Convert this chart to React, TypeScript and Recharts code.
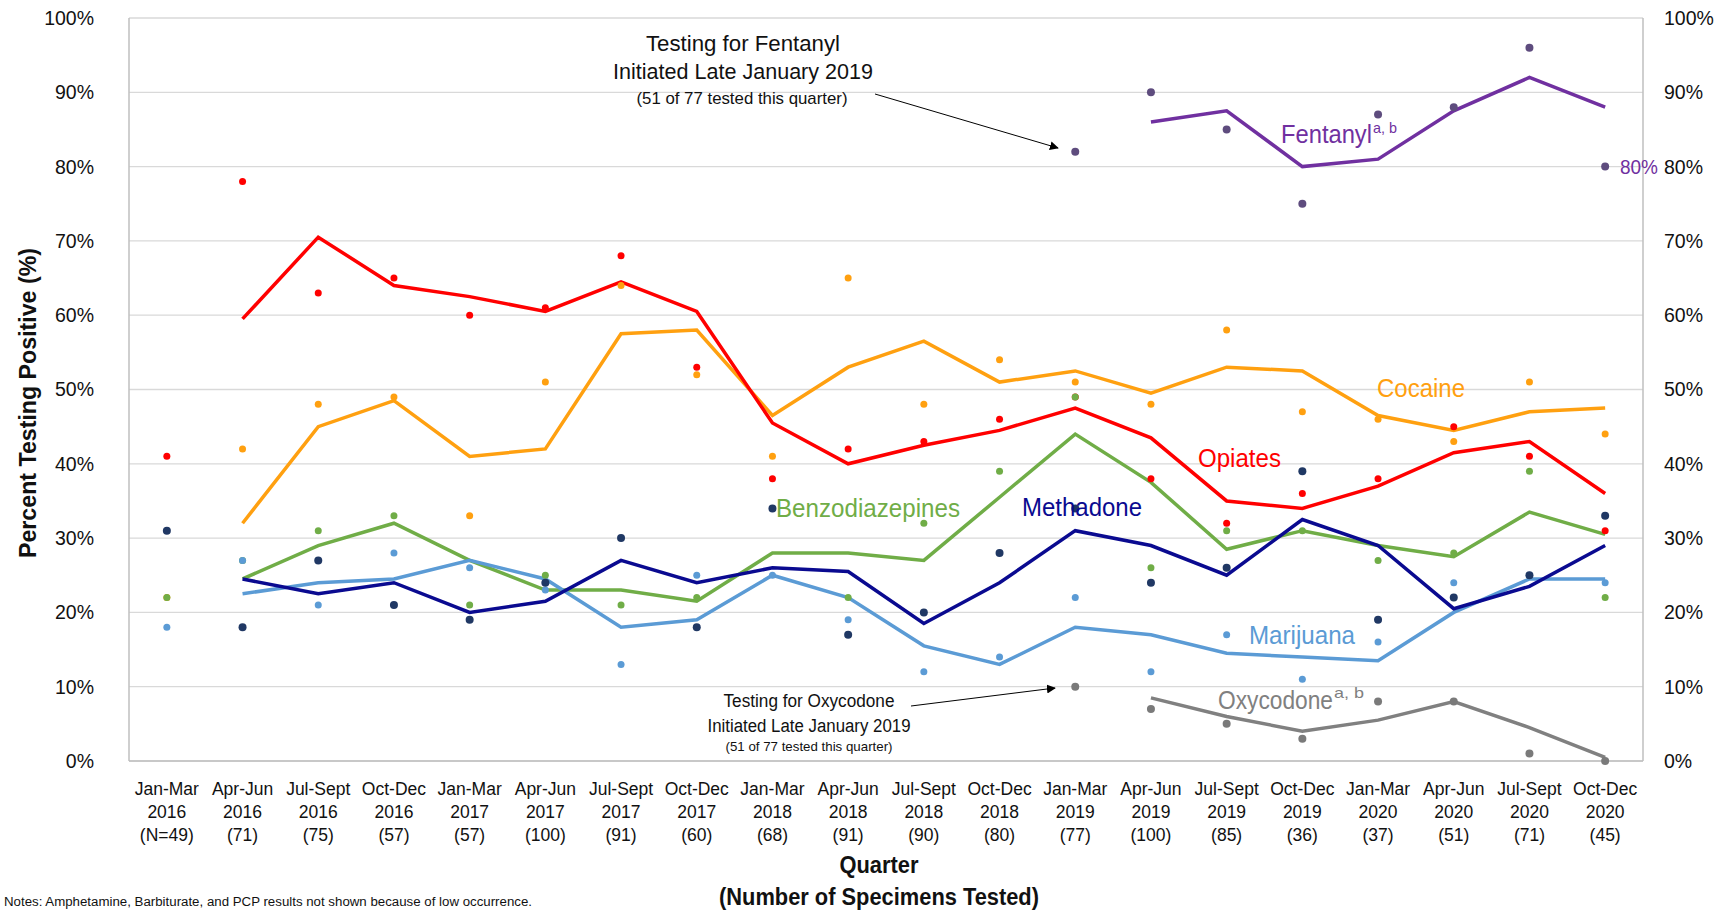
import React from "react";
import { ComposedChart, Line, XAxis, YAxis, CartesianGrid } from "recharts";

const quarterNames = [
  "Jan-Mar", "Apr-Jun", "Jul-Sept", "Oct-Dec",
  "Jan-Mar", "Apr-Jun", "Jul-Sept", "Oct-Dec",
  "Jan-Mar", "Apr-Jun", "Jul-Sept", "Oct-Dec",
  "Jan-Mar", "Apr-Jun", "Jul-Sept", "Oct-Dec",
  "Jan-Mar", "Apr-Jun", "Jul-Sept", "Oct-Dec",
];
const quarterYears = [
  "2016", "2016", "2016", "2016", "2017", "2017", "2017", "2017",
  "2018", "2018", "2018", "2018", "2019", "2019", "2019", "2019",
  "2020", "2020", "2020", "2020",
];
const specimenLabels = [
  "(N=49)", "(71)", "(75)", "(57)", "(57)", "(100)", "(91)", "(60)", "(68)", "(91)",
  "(90)", "(80)", "(77)", "(100)", "(85)", "(36)", "(37)", "(51)", "(71)", "(45)",
];
const percentTicks = [0, 10, 20, 30, 40, 50, 60, 70, 80, 90, 100];

// quarterly results (dots)
const opiatesDots = [41, 78, 63, 65, 60, 61, 68, 53, 38, 42, 43, 46, 49, 38, 32, 36, 38, 45, 41, 31];
const cocaineDots = [22, 42, 48, 49, 33, 51, 64, 52, 41, 65, 48, 54, 51, 48, 58, 47, 46, 43, 51, 44];
const benzoDots = [22, 27, 31, 33, 21, 25, 21, 22, 34, 22, 32, 39, 49, 26, 31, 31, 27, 28, 39, 22];
const marijuanaDots = [18, 27, 21, 28, 26, 23, 13, 25, 25, 19, 12, 14, 22, 12, 17, 11, 16, 24, 25, 24];
const methadoneDots = [31, 18, 27, 21, 19, 24, 30, 18, 34, 17, 20, 28, 34, 24, 26, 39, 19, 22, 25, 33];
const fentanylDots = [null, null, null, null, null, null, null, null, null, null, null, null, 82, 90, 85, 75, 87, 88, 96, 80];
const oxycodoneDots = [null, null, null, null, null, null, null, null, null, null, null, null, 10, 7, 5, 3, 8, 8, 1, 0];

// two-quarter trend lines
const opiatesLine = [null, 59.5, 70.5, 64, 62.5, 60.5, 64.5, 60.5, 45.5, 40, 42.5, 44.5, 47.5, 43.5, 35, 34, 37, 41.5, 43, 36];
const cocaineLine = [null, 32, 45, 48.5, 41, 42, 57.5, 58, 46.5, 53, 56.5, 51, 52.5, 49.5, 53, 52.5, 46.5, 44.5, 47, 47.5];
const benzoLine = [null, 24.5, 29, 32, 27, 23, 23, 21.5, 28, 28, 27, 35.5, 44, 37.5, 28.5, 31, 29, 27.5, 33.5, 30.5];
const marijuanaLine = [null, 22.5, 24, 24.5, 27, 24.5, 18, 19, 25, 22, 15.5, 13, 18, 17, 14.5, 14, 13.5, 20, 24.5, 24.5];
const methadoneLine = [null, 24.5, 22.5, 24, 20, 21.5, 27, 24, 26, 25.5, 18.5, 24, 31, 29, 25, 32.5, 29, 20.5, 23.5, 29];
const fentanylLine = [null, null, null, null, null, null, null, null, null, null, null, null, null, 86, 87.5, 80, 81, 87.5, 92, 88];
const oxycodoneLine = [null, null, null, null, null, null, null, null, null, null, null, null, null, 8.5, 6, 4, 5.5, 8, 4.5, 0.5];

const FONT = "'Liberation Sans', Arial, Helvetica, sans-serif";

const series = [
  { key: "cocaine", dots: cocaineDots, line: cocaineLine, color: "#ffa010", dotColor: "#ffa010", r: 3.5 },
  { key: "opiates", dots: opiatesDots, line: opiatesLine, color: "#ff0000", dotColor: "#ff0000", r: 3.5 },
  { key: "benzo", dots: benzoDots, line: benzoLine, color: "#70ad47", dotColor: "#70ad47", r: 3.5 },
  { key: "marijuana", dots: marijuanaDots, line: marijuanaLine, color: "#5b9bd5", dotColor: "#5b9bd5", r: 3.5 },
  { key: "methadone", dots: methadoneDots, line: methadoneLine, color: "#0a0a90", dotColor: "#203864", r: 4 },
  { key: "fentanyl", dots: fentanylDots, line: fentanylLine, color: "#7030a0", dotColor: "#5e4c7e", r: 4 },
  { key: "oxycodone", dots: oxycodoneDots, line: oxycodoneLine, color: "#808080", dotColor: "#7a7a7a", r: 4 },
];

const dotOrder = ["opiates", "cocaine", "benzo", "marijuana", "methadone", "fentanyl", "oxycodone"];

const data = quarterNames.map((q, i) => {
  const row: any = { label: `${q} ${quarterYears[i]}` };
  series.forEach((s) => {
    row[s.key + "Dot"] = s.dots[i];
    row[s.key + "Line"] = s.line[i];
  });
  return row;
});
const labels = data.map((d) => d.label);

const XTick = (props: any) => {
  const { x, y, payload } = props;
  const i = labels.indexOf(payload.value);
  return (
    <text x={x} y={y} textAnchor="middle" fontSize={17.5} fontFamily={FONT} fill="#111">
      <tspan x={x} dy={34}>{quarterNames[i]}</tspan>
      <tspan x={x} dy={23}>{quarterYears[i]}</tspan>
      <tspan x={x} dy={23}>{specimenLabels[i]}</tspan>
    </text>
  );
};

const T = (p: any) => (
  <text
    x={p.x}
    y={p.y}
    fontSize={p.size}
    fill={p.fill || "#111"}
    fontWeight={p.bold ? "bold" : "normal"}
    textAnchor={p.anchor || "start"}
    fontFamily={FONT}
    textLength={p.len}
    lengthAdjust="spacingAndGlyphs"
    transform={p.transform}
  >
    {p.children}
  </text>
);

export default function App() {
  return (
    <div style={{ position: "absolute", left: 0, top: 0, width: 1728, height: 913, background: "#fff" }}>
      <ComposedChart width={1728} height={913} data={data} margin={{ top: 18, right: 0, bottom: 0, left: 0 }}>
        <CartesianGrid yAxisId="left" vertical={false} stroke="#d9d9d9" strokeWidth={1.3} />
        <XAxis
          dataKey="label"
          scale="band"
          height={152}
          tick={<XTick />}
          tickLine={false}
          tickSize={0}
          tickMargin={0}
          interval={0}
          axisLine={{ stroke: "#bfbfbf", strokeWidth: 1.5 }}
        />
        <YAxis
          yAxisId="left"
          width={129}
          domain={[0, 100]}
          ticks={percentTicks}
          tickFormatter={(v: number) => `${v}%`}
          tickLine={false}
          tickSize={8}
          tickMargin={27}
          axisLine={{ stroke: "#bfbfbf", strokeWidth: 1.5 }}
          tick={{ fontSize: 19.5, fill: "#111", fontFamily: FONT }}
        />
        <YAxis
          yAxisId="right"
          orientation="right"
          width={85}
          domain={[0, 100]}
          ticks={percentTicks}
          tickFormatter={(v: number) => `${v}%`}
          tickLine={false}
          tickSize={8}
          tickMargin={13}
          axisLine={{ stroke: "#bfbfbf", strokeWidth: 1.5 }}
          tick={{ fontSize: 19.5, fill: "#111", fontFamily: FONT }}
        />
        {series.map((s) => (
          <Line
            key={s.key + "Line"}
            yAxisId="left"
            dataKey={s.key + "Line"}
            stroke={s.color}
            strokeWidth={3.5}
            dot={false}
            activeDot={false}
            isAnimationActive={false}
            connectNulls={false}
          />
        ))}
        {dotOrder.map((k) => {
          const s = series.find((x) => x.key === k)!;
          return (
            <Line
              key={k + "Dot"}
              yAxisId="right"
              dataKey={k + "Dot"}
              stroke="none"
              strokeWidth={0}
              dot={{ r: s.r, fill: s.dotColor, stroke: "none" }}
              activeDot={false}
              isAnimationActive={false}
            />
          );
        })}
      </ComposedChart>
      <svg width={1728} height={913} style={{ position: "absolute", left: 0, top: 0, pointerEvents: "none" }}>
        <defs>
          <marker id="arr" viewBox="0 0 10 10" refX="9" refY="5" markerWidth="9" markerHeight="9" orient="auto">
            <path d="M0,0 L10,5 L0,10 z" fill="#000" />
          </marker>
        </defs>
        {/* axis titles */}
        <T x={0} y={0} size={24} bold len={310} anchor="middle" transform="translate(36,403) rotate(-90)">
          Percent Testing Positive (%)
        </T>
        <T x={879} y={873} size={23} bold len={79} anchor="middle">Quarter</T>
        <T x={879} y={905} size={23} bold len={320} anchor="middle">(Number of Specimens Tested)</T>
        <T x={4} y={906} size={12.5} len={528}>
          Notes: Amphetamine, Barbiturate, and PCP results not shown because of low occurrence.
        </T>

        {/* series labels */}
        <T x={1281} y={143} size={25} fill="#7030a0" len={91}>Fentanyl</T>
        <T x={1373} y={133} size={15} fill="#7030a0" len={24}>a, b</T>
        <T x={1620} y={174} size={20} fill="#7030a0" len={38}>80%</T>
        <T x={1377} y={397} size={25} fill="#ffa010" len={88}>Cocaine</T>
        <T x={1198} y={467} size={25} fill="#ff0000" len={83}>Opiates</T>
        <T x={776} y={517} size={25} fill="#70ad47" len={184}>Benzodiazepines</T>
        <T x={1022} y={516} size={25} fill="#0a0a90" len={120}>Methadone</T>
        <T x={1249} y={644} size={25} fill="#5b9bd5" len={106}>Marijuana</T>
        <T x={1218} y={709} size={25} fill="#808080" len={115}>Oxycodone</T>
        <T x={1334} y={698} size={15} fill="#808080" len={30}>a, b</T>

        {/* fentanyl annotation */}
        <T x={743} y={51} size={22} len={194} anchor="middle">Testing for Fentanyl</T>
        <T x={743} y={79} size={22} len={260} anchor="middle">Initiated Late January 2019</T>
        <T x={742} y={104} size={17} len={211} anchor="middle">(51 of 77 tested this quarter)</T>
        <line x1={875} y1={94} x2={1058} y2={148} stroke="#000" strokeWidth={1} markerEnd="url(#arr)" />

        {/* oxycodone annotation */}
        <T x={809} y={707} size={18} len={171} anchor="middle">Testing for Oxycodone</T>
        <T x={809} y={732} size={18} len={203} anchor="middle">Initiated Late January 2019</T>
        <T x={809} y={751} size={13.5} len={167} anchor="middle">(51 of 77 tested this quarter)</T>
        <line x1={911} y1={706} x2={1055} y2={688} stroke="#000" strokeWidth={1} markerEnd="url(#arr)" />
      </svg>
    </div>
  );
}
